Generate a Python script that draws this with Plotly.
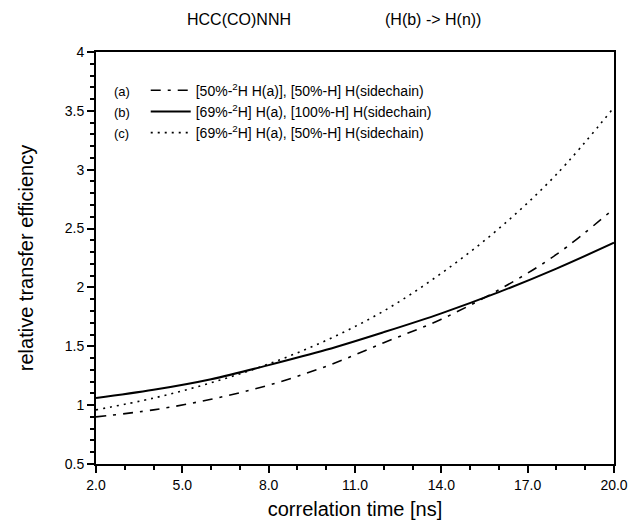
import plotly.graph_objects as go

# correlation time [ns]
tau = [2, 4, 6, 8, 10, 12, 14, 16, 18, 20]
# (a) [50%-2H H(a)], [50%-H] H(sidechain)  -- dash-dot
eff_a = [0.90, 0.96, 1.05, 1.17, 1.33, 1.53, 1.73, 1.98, 2.28, 2.67]
# (b) [69%-2H] H(a), [100%-H] H(sidechain) -- solid
eff_b = [1.06, 1.13, 1.22, 1.34, 1.47, 1.62, 1.78, 1.96, 2.16, 2.38]
# (c) [69%-2H] H(a), [50%-H] H(sidechain)  -- dotted
eff_c = [0.96, 1.06, 1.19, 1.35, 1.55, 1.80, 2.12, 2.50, 2.96, 3.53]

labels = [
    "[50%-<sup>2</sup>H H(a)], [50%-H] H(sidechain)",
    "[69%-<sup>2</sup>H] H(a), [100%-H] H(sidechain)",
    "[69%-<sup>2</sup>H] H(a), [50%-H] H(sidechain)",
]
tags = ["(a)", "(b)", "(c)"]
x_ticks = [2, 5, 8, 11, 14, 17, 20]
y_ticks = [0.5, 1, 1.5, 2, 2.5, 3, 3.5, 4]

FONT = "Liberation Sans, Arial, Helvetica, sans-serif"

fig = go.Figure()
fig.add_trace(go.Scatter(x=tau, y=eff_a, mode="lines", name=labels[0], line_shape="spline",
                         line=dict(color="black", width=1.6, dash="10px,7px,3px,7px")))
fig.add_trace(go.Scatter(x=tau, y=eff_b, mode="lines", name=labels[1], line_shape="spline",
                         line=dict(color="black", width=2)))
fig.add_trace(go.Scatter(x=tau, y=eff_c, mode="lines", name=labels[2], line_shape="spline",
                         line=dict(color="black", width=1.6, dash="2px,5px")))

for i, t in enumerate(tags):
    fig.add_annotation(xref="paper", yref="paper", x=0.03, y=0.905 - i * 0.051,
                       text=t, showarrow=False, xanchor="left", yanchor="middle",
                       font=dict(family=FONT, size=13, color="black"))

fig.add_annotation(xref="paper", yref="paper", x=0.171, y=1.053, xanchor="left", yanchor="bottom",
                   text="HCC(CO)NNH", showarrow=False, font=dict(family=FONT, size=16, color="black"))
fig.add_annotation(xref="paper", yref="paper", x=0.555, y=1.053, xanchor="left", yanchor="bottom",
                   text="(H(b) -> H(n))", showarrow=False, font=dict(family=FONT, size=16, color="black"))

fig.update_layout(
    width=640, height=529,
    margin=dict(l=96, r=23, t=52, b=62),
    paper_bgcolor="white", plot_bgcolor="white",
    font=dict(family=FONT, color="black"),
    showlegend=True,
    legend=dict(x=0.096, y=0.945, xanchor="left", yanchor="top",
                bgcolor="rgba(0,0,0,0)", font=dict(family=FONT, size=14, color="black"),
                tracegroupgap=0, itemwidth=40),
    xaxis=dict(range=[2, 20], tickvals=x_ticks, ticktext=[f"{v:.1f}" for v in x_ticks],
               showgrid=False, zeroline=False, showline=True, linecolor="black", linewidth=2,
               mirror=True, ticks="outside", ticklen=7, tickwidth=1.5, tickcolor="black",
               minor=dict(dtick=1, ticks="outside", ticklen=4, tickcolor="black"),
               tickfont=dict(family=FONT, size=14, color="black"),
               title=dict(text="correlation time [ns]", standoff=10,
                          font=dict(family=FONT, size=20, color="black"))),
    yaxis=dict(range=[0.5, 4], tickvals=y_ticks, ticktext=["0.5", "1", "1.5", "2", "2.5", "3", "3.5", "4"],
               showgrid=False, zeroline=False, showline=True, linecolor="black", linewidth=2,
               mirror=True, ticks="outside", ticklen=7, tickwidth=1.5, tickcolor="black",
               minor=dict(dtick=0.1, ticks="outside", ticklen=4, tickcolor="black"),
               tickfont=dict(family=FONT, size=14, color="black"),
               title=dict(text="relative transfer efficiency", standoff=26,
                          font=dict(family=FONT, size=20, color="black"))),
)

fig.write_html("out.html")
